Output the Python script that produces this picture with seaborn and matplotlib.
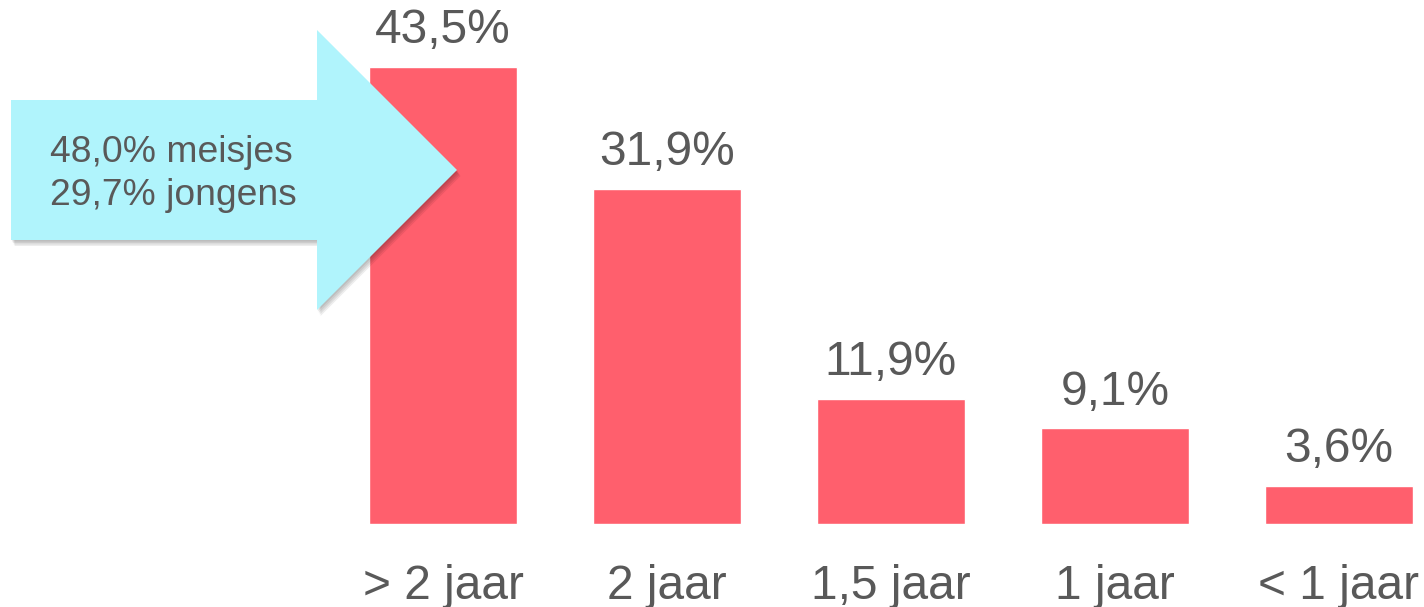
import matplotlib
matplotlib.use("Agg")
import matplotlib.pyplot as plt
from matplotlib.patches import Polygon
import seaborn as sns

# data
categorieen = ["> 2 jaar", "2 jaar", "1,5 jaar", "1 jaar", "< 1 jaar"]
percentages = [43.5, 31.9, 11.9, 9.1, 3.6]
pijl_tekst = ["48,0% meisjes", "29,7% jongens"]

W, H = 1424, 607
GRIJS = "#595959"
ROOD = "#FF5F6D"
CYAAN = "#B0F4FC"

sns.set_theme(style="white")
plt.rcParams["font.family"] = ["Liberation Sans", "DejaVu Sans"]

fig = plt.figure(figsize=(W / 100, H / 100), dpi=100)
ax = fig.add_axes([0, (H - 524) / H, 1, 524 / H])

sns.barplot(x=categorieen, y=percentages, color=ROOD, saturation=1,
            width=0.66, ax=ax)

# x-as: middens op 443 + 224*i pixels
ax.set_xlim(-443 / 224, (W - 443) / 224)
ax.set_ylim(0, 524 / 10.5)

labels = [f"{p:.1f}%".replace(".", ",") for p in percentages]
ax.bar_label(ax.containers[0], labels=labels, padding=10, fontsize=34.5, color=GRIJS)

ax.tick_params(axis="x", length=0, pad=29, labelsize=34.5, labelcolor=GRIJS)
ax.set_yticks([])
ax.set_xlabel("")
ax.set_ylabel("")
sns.despine(ax=ax, left=True, bottom=True, top=True, right=True)


def pix(pts):
    return [(x / W, 1 - y / H) for x, y in pts]


pijl = [(11, 100), (317, 100), (317, 30), (457, 170),
        (317, 310), (317, 240), (11, 240)]
# zachte schaduw in een paar lagen
for d in [1.5, 3, 4.5, 6]:
    schaduw = [(x + d * 0.6, y + d) for x, y in pijl]
    fig.patches.append(Polygon(pix(schaduw), closed=True, transform=fig.transFigure,
                               facecolor="#000000", alpha=0.07, edgecolor="none",
                               zorder=5))
fig.patches.append(Polygon(pix(pijl), closed=True, transform=fig.transFigure,
                           facecolor=CYAAN, edgecolor="none", zorder=6))

fig.text(50 / W, 1 - 162 / H, pijl_tekst[0], fontsize=26.8, color=GRIJS,
         va="baseline", ha="left", zorder=7)
fig.text(50 / W, 1 - 205 / H, pijl_tekst[1], fontsize=26.8, color=GRIJS,
         va="baseline", ha="left", zorder=7)

fig.savefig("out.png", dpi=100)
